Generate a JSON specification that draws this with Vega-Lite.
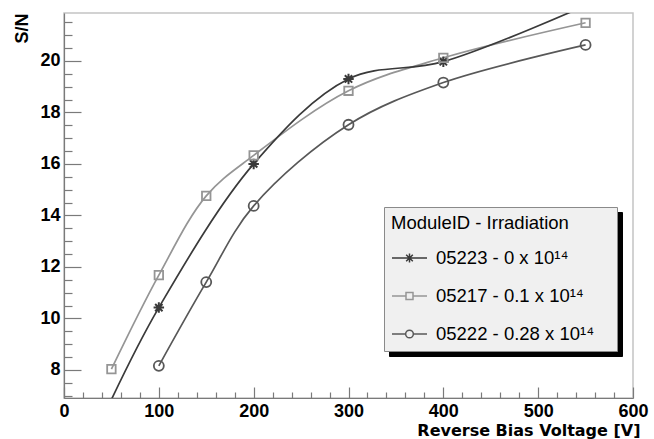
{
  "$schema": "https://vega.github.io/schema/vega-lite/v6.json",
  "width": 569,
  "height": 385,
  "autosize": "none",
  "padding": {"left": 64, "top": 13, "right": 21, "bottom": 41},
  "background": "white",
  "config": {
    "view": {"stroke": "#c4c4c4", "strokeWidth": 1.5},
    "font": "Liberation Sans"
  },
  "data": {
    "values": [
      {"series": "05223 - 0 x 10\u00b9\u2074", "v": 50, "sn": 6.85},
      {"series": "05223 - 0 x 10\u00b9\u2074", "v": 100, "sn": 10.42},
      {"series": "05223 - 0 x 10\u00b9\u2074", "v": 200, "sn": 16.0},
      {"series": "05223 - 0 x 10\u00b9\u2074", "v": 300, "sn": 19.3},
      {"series": "05223 - 0 x 10\u00b9\u2074", "v": 400, "sn": 19.97},
      {"series": "05223 - 0 x 10\u00b9\u2074", "v": 550, "sn": 22.15},
      {"series": "05217 - 0.1 x 10\u00b9\u2074", "v": 50, "sn": 8.03},
      {"series": "05217 - 0.1 x 10\u00b9\u2074", "v": 100, "sn": 11.68},
      {"series": "05217 - 0.1 x 10\u00b9\u2074", "v": 150, "sn": 14.76},
      {"series": "05217 - 0.1 x 10\u00b9\u2074", "v": 200, "sn": 16.33},
      {"series": "05217 - 0.1 x 10\u00b9\u2074", "v": 300, "sn": 18.84},
      {"series": "05217 - 0.1 x 10\u00b9\u2074", "v": 400, "sn": 20.12},
      {"series": "05217 - 0.1 x 10\u00b9\u2074", "v": 550, "sn": 21.48},
      {"series": "05222 - 0.28 x 10\u00b9\u2074", "v": 100, "sn": 8.16},
      {"series": "05222 - 0.28 x 10\u00b9\u2074", "v": 150, "sn": 11.41},
      {"series": "05222 - 0.28 x 10\u00b9\u2074", "v": 200, "sn": 14.37},
      {"series": "05222 - 0.28 x 10\u00b9\u2074", "v": 300, "sn": 17.52},
      {"series": "05222 - 0.28 x 10\u00b9\u2074", "v": 400, "sn": 19.16},
      {"series": "05222 - 0.28 x 10\u00b9\u2074", "v": 550, "sn": 20.62}
    ]
  },
  "encoding": {
    "x": {
      "field": "v", "type": "quantitative",
      "scale": {"domain": [0, 600], "nice": false, "zero": false},
      "axis": {
        "values": [0,20,40,60,80,100,120,140,160,180,200,220,240,260,280,300,320,340,360,380,400,420,440,460,480,500,520,540,560,580,600],
        "format": ".0f",
        "labelExpr": "datum.value % 100 === 0 ? datum.label : ''",
        "grid": false,
        "domainColor": "#7a7a7a", "domainWidth": 1.2,
        "tickColor": "#7a7a7a", "tickWidth": 1.2,
        "tickSize": {"condition": {"test": "datum.value % 100 === 0", "value": -11}, "value": -6},
        "labelPadding": 15,
        "labelFont": "Liberation Sans", "labelFontSize": 18, "labelFontWeight": "bold", "labelColor": "black",
        "labelFlush": false, "labelOverlap": false,
        "title": "Reverse Bias Voltage [V]",
        "titleFont": "DejaVu Sans", "titleFontSize": 16, "titleFontWeight": "bold", "titleColor": "black",
        "titleAlign": "right", "titleBaseline": "alphabetic", "titleX": 576, "titleY": 37
      }
    },
    "y": {
      "field": "sn", "type": "quantitative",
      "scale": {"domain": [6.91, 21.86], "nice": false, "zero": false},
      "axis": {
        "values": [7,7.5,8,8.5,9,9.5,10,10.5,11,11.5,12,12.5,13,13.5,14,14.5,15,15.5,16,16.5,17,17.5,18,18.5,19,19.5,20,20.5,21,21.5],
        "format": ".0f",
        "labelExpr": "datum.value % 2 === 0 ? datum.label : ''",
        "grid": false,
        "domainColor": "#7a7a7a", "domainWidth": 1.2,
        "tickColor": "#7a7a7a", "tickWidth": 1.2,
        "tickSize": {"condition": {"test": "datum.value % 2 === 0", "value": -17}, "value": -8},
        "labelPadding": 21,
        "labelFont": "Liberation Sans", "labelFontSize": 18, "labelFontWeight": "bold", "labelColor": "black",
        "labelFlush": false, "labelOverlap": false,
        "title": "S/N",
        "titleFont": "Liberation Sans", "titleFontSize": 18, "titleFontWeight": "bold", "titleColor": "black",
        "titleAngle": -90, "titleAlign": "right", "titleBaseline": "alphabetic", "titleX": -37, "titleY": 0
      }
    }
  },
  "layer": [
    {
      "transform": [{"filter": "datum.v < 0"}],
      "mark": {"type": "point", "filled": true, "opacity": 1},
      "encoding": {
        "fill": {
          "field": "series", "type": "nominal",
          "scale": {"domain": ["shadow"], "range": ["black"]},
          "legend": {
            "orient": "none", "legendX": 325, "legendY": 199,
            "title": null,
            "labelFontSize": 18.5, "labelOffset": 0, "labelLimit": 1000,
            "labelExpr": "''",
            "padding": 7,
            "fillColor": "black", "strokeColor": "black",
            "symbolType": "M-1,-1H1V0.187H-1Z", "symbolSize": 47961, "symbolOffset": 0,
            "symbolStrokeWidth": 0, "symbolFillColor": "black", "symbolStrokeColor": "black"
          }
        }
      }
    },
    {
      "transform": [{"filter": "datum.series === '05222 - 0.28 x 10\u00b9\u2074'"}],
      "mark": {"type": "line", "interpolate": "catmull-rom", "strokeWidth": 1.7, "clip": true, "stroke": "#585858"}
    },
    {
      "transform": [{"filter": "datum.series === '05217 - 0.1 x 10\u00b9\u2074'"}],
      "mark": {"type": "line", "interpolate": "catmull-rom", "strokeWidth": 1.7, "clip": true, "stroke": "#959595"}
    },
    {
      "transform": [{"filter": "datum.series === '05223 - 0 x 10\u00b9\u2074'"}],
      "mark": {"type": "line", "interpolate": "catmull-rom", "strokeWidth": 1.7, "clip": true, "stroke": "#3a3a3a"}
    },
    {
      "transform": [{"filter": "datum.series === '05223 - 0 x 10\u00b9\u2074' && datum.sn > 6.91 && datum.sn < 21.86"}],
      "mark": {"type": "point", "shape": "M-1,0H1M0,-1V1M-0.7,-0.7L0.7,0.7M-0.7,0.7L0.7,-0.7", "size": 110, "filled": false, "stroke": "#3a3a3a", "strokeWidth": 2, "opacity": 1, "clip": true}
    },
    {
      "transform": [{"filter": "datum.series === '05217 - 0.1 x 10\u00b9\u2074' && datum.sn > 6.91 && datum.sn < 21.86"}],
      "mark": {"type": "point", "shape": "square", "size": 72, "filled": false, "stroke": "#959595", "strokeWidth": 1.8, "opacity": 1, "clip": true}
    },
    {
      "transform": [{"filter": "datum.series === '05222 - 0.28 x 10\u00b9\u2074' && datum.sn > 6.91 && datum.sn < 21.86"}],
      "mark": {"type": "point", "shape": "circle", "size": 100, "filled": false, "stroke": "#585858", "strokeWidth": 1.8, "opacity": 1, "clip": true}
    },
    {
      "transform": [{"filter": "datum.v < 0"}],
      "mark": {"type": "point", "filled": false, "opacity": 1, "strokeWidth": 1.5},
      "encoding": {
        "stroke": {
          "field": "series", "type": "nominal",
          "scale": {
            "domain": ["05223 - 0 x 10\u00b9\u2074", "05217 - 0.1 x 10\u00b9\u2074", "05222 - 0.28 x 10\u00b9\u2074"],
            "range": ["#3a3a3a", "#959595", "#585858"]
          },
          "legend": {
            "orient": "none", "legendX": 320, "legendY": 194,
            "title": "ModuleID - Irradiation",
            "titleFont": "Liberation Sans", "titleFontSize": 18.5, "titleFontWeight": "normal", "titleColor": "black",
            "titlePadding": 7,
            "labelFont": "Liberation Sans", "labelFontSize": 18.5, "labelColor": "black", "labelOffset": 8, "labelLimit": 1000,
            "labelExpr": "datum.label + '\u00a0\u00a0\u00a0\u200b'",
            "rowPadding": 10, "padding": 7,
            "fillColor": "#f0f0f0", "strokeColor": "#8a8a8a",
            "symbolSize": 1225, "symbolStrokeWidth": 1.5
          }
        },
        "shape": {
          "field": "series", "type": "nominal",
          "scale": {
            "domain": ["05223 - 0 x 10\u00b9\u2074", "05217 - 0.1 x 10\u00b9\u2074", "05222 - 0.28 x 10\u00b9\u2074"],
            "range": [
              "M-1,0H1M0,-0.26V0.26M-0.19,-0.19L0.19,0.19M-0.19,0.19L0.19,-0.19",
              "M-1,0H-0.2M0.2,0H1M-0.2,-0.2H0.2V0.2H-0.2Z",
              "M-1,0H-0.22M0.22,0H1M-0.22,0A0.22,0.22,0,1,0,0.22,0A0.22,0.22,0,1,0,-0.22,0Z"
            ]
          },
          "legend": {
            "orient": "none", "legendX": 320, "legendY": 194,
            "title": "ModuleID - Irradiation",
            "titleFont": "Liberation Sans", "titleFontSize": 18.5, "titleFontWeight": "normal", "titleColor": "black",
            "titlePadding": 7,
            "labelFont": "Liberation Sans", "labelFontSize": 18.5, "labelColor": "black", "labelOffset": 8, "labelLimit": 1000,
            "labelExpr": "datum.label + '\u00a0\u00a0\u00a0\u200b'",
            "rowPadding": 10, "padding": 7,
            "fillColor": "#f0f0f0", "strokeColor": "#8a8a8a",
            "symbolSize": 1225, "symbolStrokeWidth": 1.5
          }
        }
      }
    }
  ]
}
